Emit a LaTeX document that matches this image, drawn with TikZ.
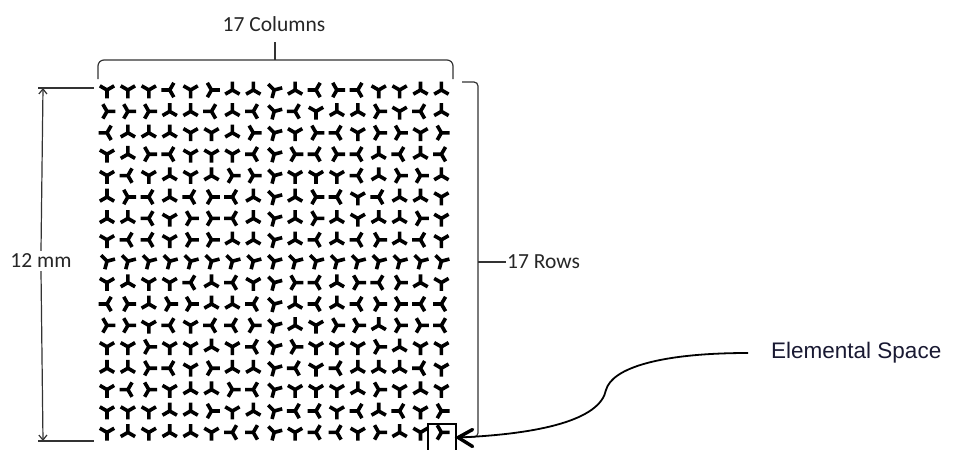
\documentclass[tikz,border=0pt]{standalone}
\usepackage{fontspec}
\setmainfont{Carlito}
\newfontfamily\arialfont{Liberation Sans}
\usetikzlibrary{arrows.meta}
\definecolor{navytext}{RGB}{25,25,50}
\def\angY{270}
\def\angU{90}
\def\angR{0}
\def\angL{180}
\def\angT{15}
\tikzset{
  symb/.style={line width=3.6pt, black},
  thinline/.style={line width=1.2pt, black!80},
  lbl/.style={font=\fontsize{21.5}{23}\selectfont, text=black!85, inner sep=1pt},
}
\begin{document}
\begin{tikzpicture}[x=1pt,y=-1pt]
\useasboundingbox (0,0) rectangle (959,450);
% grid of symbols
\foreach \row [count=\r] in {
{Y,Y,Y,L,Y,R,U,U,T,U,L,R,L,Y,Y,U,U},
{R,R,R,U,U,L,U,L,T,L,Y,U,U,R,Y,L,U},
{L,U,U,U,Y,Y,U,R,T,Y,R,L,Y,R,R,Y,R},
{Y,U,R,L,Y,Y,Y,L,T,R,L,R,L,U,L,U,L},
{Y,L,Y,U,Y,U,R,R,T,Y,Y,Y,L,U,R,R,U},
{U,R,L,U,L,R,L,U,T,U,R,L,Y,L,U,U,Y},
{U,U,L,Y,R,R,L,U,T,U,R,U,Y,U,U,R,Y},
{Y,L,L,Y,R,R,U,U,T,U,L,U,L,R,U,L,Y},
{T,T,T,T,T,T,T,T,T,T,T,T,T,T,T,T,T},
{Y,U,Y,Y,L,U,L,Y,T,R,L,U,R,L,R,U,Y},
{L,R,U,R,R,U,U,L,T,U,L,U,L,R,R,L,L},
{R,R,Y,L,Y,L,L,R,T,U,Y,R,R,U,R,R,L},
{Y,Y,R,Y,Y,U,Y,L,T,R,Y,Y,Y,R,U,Y,Y},
{U,U,R,L,Y,R,U,U,T,L,Y,L,U,U,U,L,Y},
{Y,L,R,Y,U,U,R,L,T,Y,Y,Y,U,R,Y,U,Y},
{Y,Y,Y,U,U,R,Y,U,T,L,L,Y,L,U,L,Y,R},
{Y,U,Y,U,U,Y,L,L,T,Y,L,L,Y,R,U,Y,R}} {
  \foreach \s [count=\c] in \row {
    \pgfmathsetmacro\px{107+(\c-1)*20.9}
    \pgfmathsetmacro\py{90+(\r-1)*21.4}
    \edef\a{\csname ang\s\endcsname}
    \draw[symb] (\px,\py) -- ++(\a:8.3pt)
                (\px,\py) -- ++(\a+120:8.3pt)
                (\px,\py) -- ++(\a+240:8.3pt);
  }
}
% top brace
\node[lbl] (cols) at (274,24) {17 Columns};
\coordinate (ctick) at (275,42);
\draw[thinline, rounded corners=6pt] (98,79) -- (98,60) -- (453,60) -- (453,79);
\draw[thinline] (ctick) -- (275,60);
% left dimension
\node[lbl, fill=white, inner sep=3pt] (mm) at (41,261) {12 mm};
\coordinate (dtop) at (43,88);
\coordinate (dbot) at (43,441);
\draw[thinline] (38,88) -- (94,88);
\draw[thinline] (38,441) -- (94,441);
\draw[thinline, -{Straight Barb[length=5pt,width=8pt]}] (mm.north) -- (dtop);
\draw[thinline, -{Straight Barb[length=5pt,width=8pt]}] (mm.south) -- (dbot);
% right brace
\draw[thinline, rounded corners=4pt] (462,82) -- (478,82) -- (478,437) -- (462,437);
\node[lbl, anchor=west] (rows) at (506,262) {17 Rows};
\draw[thinline] (478,262) -- (rows.west);
% elemental space
\node[draw, line width=1.2pt, minimum width=28pt, minimum height=27pt, inner sep=0pt] (esbox) at (442,437.5) {};
\node[anchor=west, inner sep=1pt, font=\arialfont\fontsize{22.5}{24}\selectfont, text=navytext] (es) at (770,353) {Elemental Space};
\draw[line width=1.8pt]
  (748,353) .. controls (660,353) and (612,368) .. (606,390)
  .. controls (600,420) and (540,434) .. ([xshift=2pt]esbox.east);
\draw[line width=3.4pt, line cap=round, line join=miter]
  ([xshift=16pt,yshift=-9pt]esbox.east) -- ([xshift=1.5pt]esbox.east) -- ([xshift=16pt,yshift=8pt]esbox.east);
\end{tikzpicture}
\end{document}
